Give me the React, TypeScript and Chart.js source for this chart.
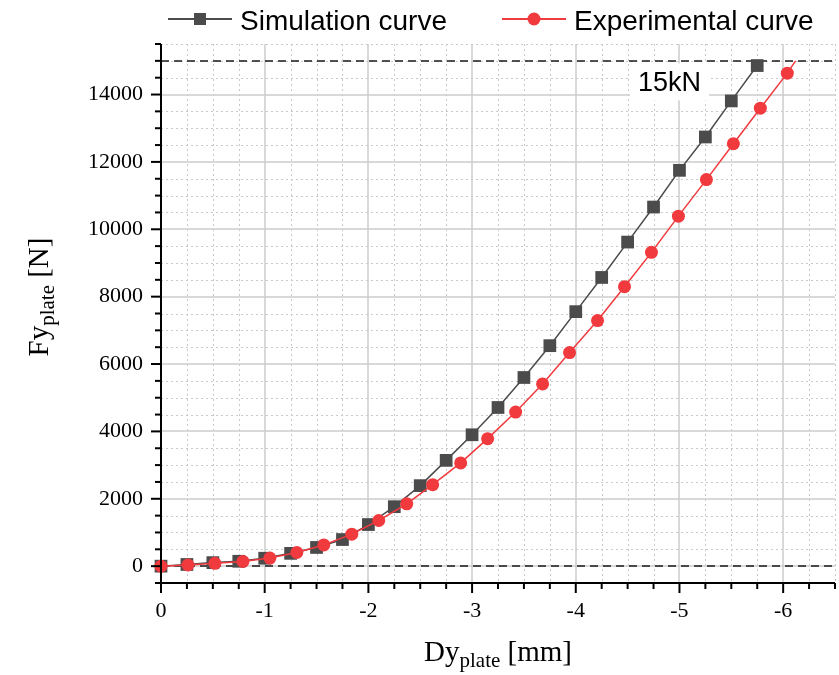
import React, { useEffect, useRef } from 'react';
import { Chart, registerables } from 'chart.js';

Chart.register(...registerables);

// ---- data ----
const seriesNames = ['Simulation curve', 'Experimental curve'];

const simX = [0, -0.25, -0.5, -0.75, -1, -1.25, -1.5, -1.75, -2, -2.25, -2.5, -2.75, -3, -3.25, -3.5, -3.75, -4, -4.25, -4.5, -4.75, -5, -5.25, -5.5, -5.75];
const simY = [0, 50, 105, 145, 235, 380, 555, 790, 1235, 1765, 2390, 3140, 3900, 4710, 5600, 6545, 7555, 8570, 9620, 10660, 11750, 12740, 13810, 14860];

const expX = [0, -0.26, -0.52, -0.79, -1.05, -1.31, -1.57, -1.84, -2.1, -2.37, -2.62, -2.89, -3.15, -3.42, -3.68, -3.94, -4.21, -4.47, -4.73, -4.99, -5.26, -5.52, -5.78, -6.04, -6.12];
const expY = [0, 35, 85, 140, 240, 405, 630, 950, 1355, 1850, 2420, 3065, 3785, 4575, 5410, 6340, 7290, 8295, 9315, 10390, 11475, 12540, 13595, 14635, 15000];

const xRange = [-6.5, 0];
const yRange = [-500, 15500];
const xStep = 0.25;
const xMajor = 1;
const yStep = 500;
const yMajor = 2000;
const refLines = [0, 15000];
const refLabel = '15kN';
const refLabelPos = { x: -4.6, y: 14360 };

const xTitle = ['Dy', 'plate', ' [mm]'];
const yTitle = ['Fy', 'plate', ' [N]'];

const SIM_COLOR = '#4B4B4B';
const EXP_COLOR = '#F03A3E';

const isMult = (v: number, m: number) => Math.abs(v / m - Math.round(v / m)) < 1e-6;

function drawSubText(ctx: CanvasRenderingContext2D, parts: string[], cx: number, baseline: number, mainSize: number, subSize: number, subDrop: number) {
  const mainFont = `${mainSize}px "Liberation Serif"`;
  const subFont = `${subSize}px "Liberation Serif"`;
  ctx.font = mainFont;
  const w0 = ctx.measureText(parts[0]).width;
  const w2 = ctx.measureText(parts[2]).width;
  ctx.font = subFont;
  const w1 = ctx.measureText(parts[1]).width;
  const total = w0 + w1 + w2;
  let x = cx - total / 2;
  ctx.textAlign = 'left';
  ctx.textBaseline = 'alphabetic';
  ctx.fillStyle = '#000';
  ctx.font = mainFont;
  ctx.fillText(parts[0], x, baseline);
  x += w0;
  ctx.font = subFont;
  ctx.fillText(parts[1], x, baseline + subDrop);
  x += w1;
  ctx.font = mainFont;
  ctx.fillText(parts[2], x, baseline);
}

export default function App() {
  const ref = useRef<HTMLCanvasElement>(null);

  useEffect(() => {
    document.body.style.margin = '0';
    const canvas = ref.current;
    if (!canvas) return;

    const decor = {
      id: 'decor',
      beforeDatasetsDraw(chart: any) {
        const { ctx, chartArea: a } = chart;
        const xs = chart.scales.x;
        const ys = chart.scales.y;
        const line = (x1: number, y1: number, x2: number, y2: number) => {
          ctx.beginPath();
          ctx.moveTo(x1, y1);
          ctx.lineTo(x2, y2);
          ctx.stroke();
        };
        ctx.save();
        ctx.lineWidth = 1;
        // minor dotted grid
        ctx.strokeStyle = '#c9c9c9';
        ctx.setLineDash([2, 3]);
        for (const t of xs.ticks) {
          if (isMult(t.value, xMajor)) continue;
          const px = Math.round(xs.getPixelForValue(t.value)) + 0.5;
          line(px, a.top, px, a.bottom);
        }
        for (const t of ys.ticks) {
          if (isMult(t.value, yMajor)) continue;
          const py = Math.round(ys.getPixelForValue(t.value)) + 0.5;
          line(a.left, py, a.right, py);
        }
        // major solid grid
        ctx.setLineDash([]);
        ctx.strokeStyle = '#cccccc';
        ctx.lineWidth = 1.5;
        for (const t of xs.ticks) {
          if (!isMult(t.value, xMajor)) continue;
          const px = Math.round(xs.getPixelForValue(t.value));
          line(px, a.top, px, a.bottom);
        }
        for (const t of ys.ticks) {
          if (!isMult(t.value, yMajor)) continue;
          const py = Math.round(ys.getPixelForValue(t.value));
          line(a.left, py, a.right, py);
        }
        // dashed reference lines
        ctx.strokeStyle = '#1a1a1a';
        ctx.lineWidth = 1.5;
        ctx.setLineDash([8, 5]);
        for (const v of refLines) {
          const py = Math.round(ys.getPixelForValue(v));
          line(a.left, py, a.right, py);
        }
        ctx.setLineDash([]);
        // 15kN label with white box
        ctx.font = '27px "Liberation Sans"';
        const tx = xs.getPixelForValue(refLabelPos.x);
        const ty = ys.getPixelForValue(refLabelPos.y);
        const tw = ctx.measureText(refLabel).width;
        ctx.fillStyle = '#ffffff';
        ctx.fillRect(tx - 8, ty - 19, tw + 16, 37);
        ctx.fillStyle = '#000';
        ctx.textAlign = 'left';
        ctx.textBaseline = 'middle';
        ctx.fillText(refLabel, tx, ty + 1);
        ctx.restore();
      },
      afterDraw(chart: any) {
        const { ctx, chartArea: a } = chart;
        const xs = chart.scales.x;
        const ys = chart.scales.y;
        const line = (x1: number, y1: number, x2: number, y2: number) => {
          ctx.beginPath();
          ctx.moveTo(x1, y1);
          ctx.lineTo(x2, y2);
          ctx.stroke();
        };
        ctx.save();
        ctx.setLineDash([]);
        ctx.strokeStyle = '#000';
        // axis lines
        ctx.lineWidth = 2;
        line(a.left, a.top, a.left, a.bottom + 1);
        line(a.left - 1, a.bottom, a.right, a.bottom);
        // tick marks
        ctx.lineWidth = 2;
        for (const t of xs.ticks) {
          const px = xs.getPixelForValue(t.value);
          const len = isMult(t.value, xMajor) ? 10 : 6;
          line(px, a.bottom, px, a.bottom + len);
        }
        for (const t of ys.ticks) {
          const py = ys.getPixelForValue(t.value);
          const len = isMult(t.value, yMajor) ? 10 : 6;
          line(a.left - len, py, a.left, py);
        }
        // axis titles
        drawSubText(ctx, xTitle, (a.left + a.right) / 2, 661, 29, 21, 6);
        ctx.save();
        ctx.translate(48, 297);
        ctx.rotate(-Math.PI / 2);
        drawSubText(ctx, yTitle, 0, 0, 29, 21, 6);
        ctx.restore();

        // legend
        ctx.font = '28px "Liberation Sans"';
        ctx.textAlign = 'left';
        ctx.textBaseline = 'alphabetic';
        const ly = 19;
        ctx.lineWidth = 2;
        ctx.strokeStyle = SIM_COLOR;
        line(168, ly, 232, ly);
        ctx.fillStyle = SIM_COLOR;
        ctx.fillRect(194, ly - 6, 12, 12);
        ctx.fillStyle = '#000';
        ctx.fillText(seriesNames[0], 240, 30);

        ctx.strokeStyle = EXP_COLOR;
        line(502, ly, 566, ly);
        ctx.fillStyle = EXP_COLOR;
        ctx.beginPath();
        ctx.arc(534, ly, 6.5, 0, Math.PI * 2);
        ctx.fill();
        ctx.fillStyle = '#000';
        ctx.fillText(seriesNames[1], 574, 30);
        ctx.restore();
      },
    };

    const simData = simX.map((x, i) => ({ x, y: simY[i] }));
    const expData = expX.map((x, i) => ({ x, y: expY[i] }));
    const expRadius = expX.map((_, i) => (i === expX.length - 1 ? 0 : 6.5));

    const chart = new Chart(canvas, {
      type: 'scatter',
      data: {
        datasets: [
          {
            label: seriesNames[0],
            data: simData,
            showLine: true,
            borderColor: SIM_COLOR,
            backgroundColor: SIM_COLOR,
            borderWidth: 1.5,
            pointStyle: 'rect',
            pointRadius: 9,
            pointBorderWidth: 0,
            pointHoverRadius: 9,
            tension: 0,
            order: 2,
            clip: false,
          } as any,
          {
            label: seriesNames[1],
            data: expData,
            showLine: true,
            borderColor: EXP_COLOR,
            backgroundColor: EXP_COLOR,
            borderWidth: 1.5,
            pointStyle: 'circle',
            pointRadius: expRadius,
            pointBorderWidth: 0,
            tension: 0,
            order: 1,
            clip: false,
          } as any,
        ],
      },
      options: {
        responsive: false,
        animation: false,
        devicePixelRatio: 1,
        events: [],
        layout: { autoPadding: false, padding: { top: 44, right: 4, left: 0, bottom: 0 } },
        plugins: {
          legend: { display: false },
          tooltip: { enabled: false },
          title: { display: false },
        },
        scales: {
          x: {
            type: 'linear',
            position: 'bottom',
            min: xRange[0],
            max: xRange[1],
            reverse: true,
            afterFit: (s: any) => {
              s.height = 92;
              s.paddingLeft = 0;
              s.paddingRight = 0;
              s.paddingTop = 0;
              s.paddingBottom = 0;
            },
            grid: { display: false, drawTicks: false },
            border: { display: false },
            ticks: {
              stepSize: xStep,
              autoSkip: false,
              minRotation: 0,
              maxRotation: 0,
              padding: 15,
              color: '#000',
              font: { family: 'Liberation Serif', size: 22 },
              callback: (v: any) => (isMult(Number(v), xMajor) ? String(Math.round(Number(v))) : ''),
            },
          },
          y: {
            type: 'linear',
            position: 'left',
            min: yRange[0],
            max: yRange[1],
            afterFit: (s: any) => {
              s.width = 161;
              s.paddingLeft = 0;
              s.paddingRight = 0;
              s.paddingTop = 0;
              s.paddingBottom = 0;
            },
            grid: { display: false, drawTicks: false },
            border: { display: false },
            ticks: {
              stepSize: yStep,
              autoSkip: false,
              padding: 18,
              color: '#000',
              font: { family: 'Liberation Serif', size: 22 },
              callback: (v: any) => (isMult(Number(v), yMajor) ? String(Math.round(Number(v))) : ''),
            },
          },
        },
      },
      plugins: [decor],
    } as any);

    return () => chart.destroy();
  }, []);

  return (
    <div style={{ width: 839, height: 675, position: 'relative' }}>
      <canvas ref={ref} width={839} height={675} style={{ display: 'block', width: 839, height: 675 }} />
    </div>
  );
}
